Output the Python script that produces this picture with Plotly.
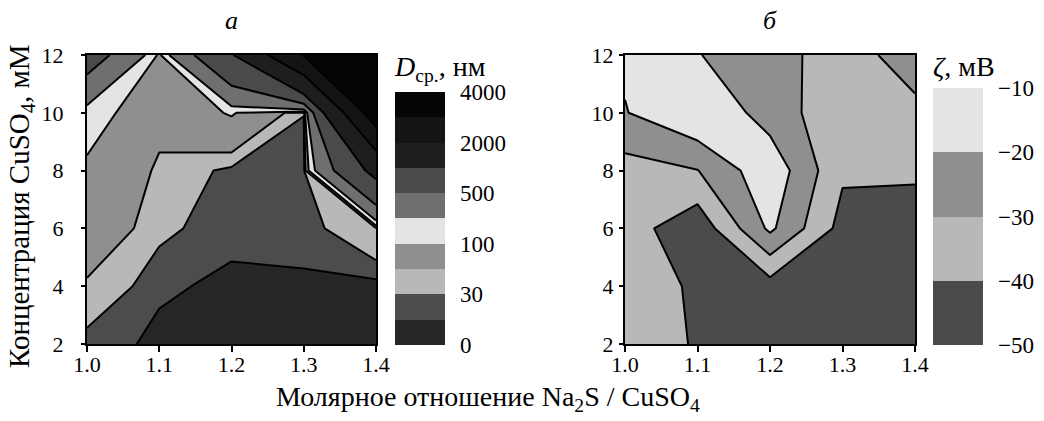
import plotly.graph_objects as go

# Grid: molar ratio Na2S/CuSO4 (columns) and CuSO4 concentration, mM (rows)
ratio = [1.0, 1.1, 1.2, 1.3, 1.4]
conc = [2, 4, 6, 8, 10, 12]

# Mean particle size D, nm
size_nm = [
    [24.2, 18.1, 14.0, 12.0, 10.0],
    [45.0, 21.2, 18.5, 18.6, 16.4],
    [79.7, 34.0, 22.0, 23.2, 46.7],
    [90.6, 45.0, 25.0, 22.0, 1168],
    [126, 61.0, 105, 30.5, 3585],
    [692, 82.0, 950, 3050, 3900],
]
size_levels = [0, 20, 30, 50, 100, 200, 500, 1000, 2000, 3000, 4000]
size_tick_text = ["0", "30", "100", "500", "2000", "4000"]
size_colors = ["#262626", "#4c4c4c", "#b8b8b8", "#8f8f8f", "#e4e4e4",
               "#6f6f6f", "#4a4a4a", "#1e1e1e", "#141414", "#050505"]

# Zeta potential, mV
zeta_mv = [
    [-36.0, -40.6, -47.0, -48.0, -48.0],
    [-36.0, -41.1, -44.0, -48.0, -49.0],
    [-35.3, -47.0, -18.0, -43.5, -49.5],
    [-34.1, -30.3, -13.0, -38.5, -37.0],
    [-20.5, -10.5, -24.6, -37.0, -31.6],
    [-18.3, -19.5, -27.5, -33.1, -26.8],
]
zeta_levels = [-50, -40, -30, -20, -10]
zeta_tick_text = ["\u221250", "\u221240", "\u221230", "\u221220", "\u221210"]
zeta_colors = ["#4b4b4b", "#b8b8b8", "#8f8f8f", "#e4e4e4"]

W, H = 1044, 421
FONT = "Liberation Serif"
LINE_W = 2.0


def px_x(p):
    return p / W


def px_y(p):
    return (H - p) / H


def step_scale(colors):
    n = len(colors)
    scale = []
    for k, c in enumerate(colors):
        scale += [[k / n, c], [(k + 1) / n, c]]
    return scale


fig = go.Figure()

# Panel a: bands for non-uniform levels, built as stacked constraint contours.
# A "<" constraint shades the region above its value.
for k in range(len(size_colors)):
    fig.add_trace(go.Contour(
        x=ratio, y=conc, z=size_nm, xaxis="x", yaxis="y",
        contours=dict(type="constraint", operation="<", value=size_levels[k]),
        fillcolor=size_colors[k],
        line=dict(width=0, color=size_colors[k], smoothing=0),
        showscale=False, hoverinfo="skip", showlegend=False,
    ))
# Panel a: contour lines drawn over all fills
for k in range(1, len(size_colors)):
    fig.add_trace(go.Contour(
        x=ratio, y=conc, z=size_nm, xaxis="x", yaxis="y",
        contours=dict(type="constraint", operation="<", value=size_levels[k]),
        fillcolor="rgba(0,0,0,0)",
        line=dict(width=LINE_W, color="black", smoothing=0),
        showscale=False, hoverinfo="skip", showlegend=False,
    ))

# Panel b: zeta potential contour
fig.add_trace(go.Contour(
    x=ratio, y=conc, z=zeta_mv, xaxis="x2", yaxis="y2",
    zmin=zeta_levels[0], zmax=zeta_levels[-1], autocontour=False,
    contours=dict(start=zeta_levels[0], end=zeta_levels[-1], size=10,
                  coloring="fill", showlines=True),
    colorscale=step_scale(zeta_colors),
    line=dict(color="black", width=LINE_W, smoothing=0),
    showscale=False, hoverinfo="skip",
))

tick_font = dict(family=FONT, size=22, color="black")
cbar_font = dict(family=FONT, size=23, color="black")
title_font = dict(family=FONT, size=28, color="black")


def colorbar(x_left, tickvals, ticktext, title):
    return dict(
        x=px_x(x_left), xanchor="left", xpad=0,
        y=px_y(345), yanchor="bottom", ypad=0,
        len=(345 - 52) / H, lenmode="fraction",
        thickness=50, thicknessmode="pixels",
        outlinewidth=0,
        tickvals=tickvals, ticktext=ticktext,
        ticks="outside", ticklen=11, tickcolor="rgba(0,0,0,0)",
        tickfont=cbar_font,
        title=dict(text=title, side="top", font=title_font),
    )


# Colour bars (discrete bands)
n_size = len(size_colors)
fig.add_trace(go.Scatter(
    x=[None], y=[None], xaxis="x", yaxis="y", mode="markers", showlegend=False,
    marker=dict(color=[0], cmin=0, cmax=n_size, colorscale=step_scale(size_colors),
                showscale=True,
                colorbar=colorbar(395, list(range(0, n_size + 1, 2)), size_tick_text,
                                  "<i>D</i><sub>ср.</sub>, нм")),
))
fig.add_trace(go.Scatter(
    x=[None], y=[None], xaxis="x2", yaxis="y2", mode="markers", showlegend=False,
    marker=dict(color=[zeta_levels[0]], cmin=zeta_levels[0], cmax=zeta_levels[-1],
                colorscale=step_scale(zeta_colors), showscale=True,
                colorbar=colorbar(933, zeta_levels, zeta_tick_text, "<i>ζ</i>, мВ")),
))

axis_common = dict(
    showline=True, mirror=True, linecolor="black", linewidth=2,
    ticks="outside", tickwidth=1.5, tickcolor="black",
    showgrid=False, zeroline=False, tickfont=tick_font,
)
x_ticks = dict(range=[ratio[0], ratio[-1]], tickvals=ratio, tickformat=".1f",
               ticklen=6, ticklabelstandoff=-6)
y_ticks = dict(range=[conc[0], conc[-1]], tickvals=conc, ticklen=4)

fig.update_layout(
    width=W, height=H,
    margin=dict(l=0, r=0, t=0, b=0, autoexpand=False),
    paper_bgcolor="white", plot_bgcolor="white",
    font=dict(family=FONT, color="black"),
    xaxis=dict(domain=[px_x(87), px_x(376)], anchor="y", **x_ticks, **axis_common),
    yaxis=dict(domain=[px_y(344), px_y(55)], anchor="x", ticklabelstandoff=13,
               **y_ticks, **axis_common),
    xaxis2=dict(domain=[px_x(625), px_x(915)], anchor="y2", **x_ticks, **axis_common),
    yaxis2=dict(domain=[px_y(344), px_y(55)], anchor="x2", ticklabelstandoff=1,
                **y_ticks, **axis_common),
    annotations=[
        dict(text="<i>а</i>", x=px_x(231), y=px_y(20), xref="paper", yref="paper",
             xanchor="center", yanchor="middle",
             showarrow=False, font=dict(family=FONT, size=26)),
        dict(text="<i>б</i>", x=px_x(770), y=px_y(20), xref="paper", yref="paper",
             xanchor="center", yanchor="middle",
             showarrow=False, font=dict(family=FONT, size=26)),
        dict(text="Концентрация CuSO<sub>4</sub>, мМ", textangle=-90,
             x=px_x(21), y=px_y(206), xref="paper", yref="paper",
             xanchor="center", yanchor="middle",
             showarrow=False, font=dict(family=FONT, size=29, color="black")),
        dict(text="Молярное отношение Na<sub>2</sub>S / CuSO<sub>4</sub>",
             x=px_x(488), y=px_y(398), xref="paper", yref="paper",
             xanchor="center", yanchor="middle",
             showarrow=False, font=title_font),
    ],
)

fig.write_html("out.html")
